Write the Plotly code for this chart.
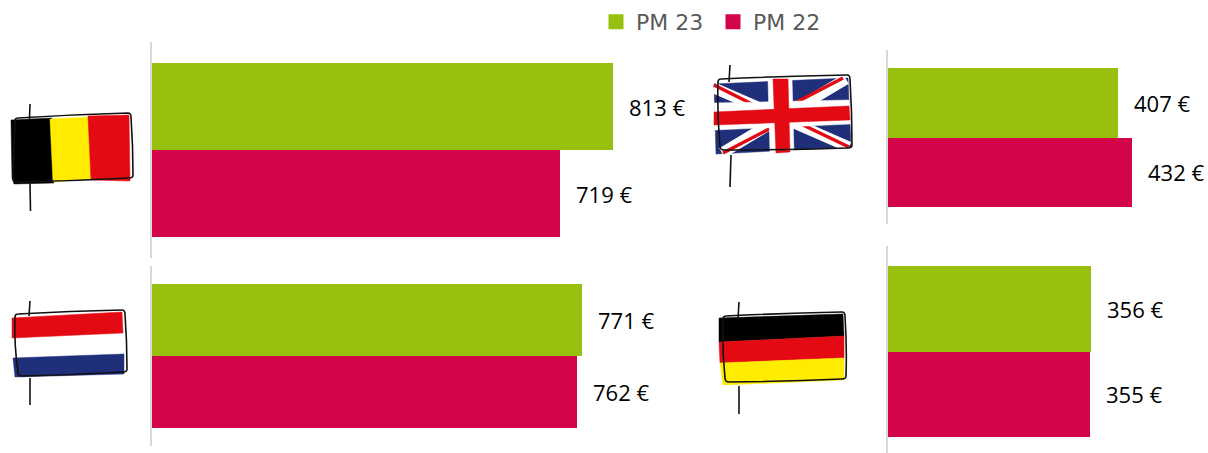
import plotly.graph_objects as go

W, H = 1208, 453
series = ["PM 23", "PM 22"]
countries = ["BE", "UK", "NL", "DE"]
pm23 = [813, 407, 771, 356]
pm22 = [719, 432, 762, 355]
labels23 = ["813 €", "407 €", "771 €", "356 €"]
labels22 = ["719 €", "432 €", "762 €", "355 €"]
GREEN, RED = "#97C00E", "#D20548"

# panel geometry in pixels: left, right, axis top, axis bottom, bars top, bars bottom, px per unit
panels = [
    (152, 700, 42, 258, 63, 237, 0.567),
    (888, 1208, 50, 224, 68, 207, 0.565),
    (152, 700, 266, 446, 284, 428, 0.5577),
    (888, 1208, 246, 453, 266, 437, 0.570),
]


def X(x):
    return round(x / W, 5)


def Y(y):
    return round(1 - y / H, 5)


def path(cmds):
    out = []
    for c in cmds:
        out.append(c[0] + " ".join(f"{X(c[i])},{Y(c[i + 1])}" for i in range(1, len(c), 2)))
    return " ".join(out)


shapes = []


def fill(pts, color):
    cmds = [("M", *pts[0])] + [("L", *p) for p in pts[1:]] + [("Z",)]
    shapes.append(dict(type="path", xref="paper", yref="paper", path=path(cmds),
                       fillcolor=color, line=dict(width=0.5, color=color), layer="above"))


def stroke(pts, color="#111111", width=1.6):
    cmds = [("M", *pts[0])] + [("L", *p) for p in pts[1:]]
    shapes.append(dict(type="path", xref="paper", yref="paper", path=path(cmds),
                       line=dict(width=width, color=color), layer="above"))


def frame(tl, tr, br, bl):
    mt = ((tl[0] + tr[0]) / 2, (tl[1] + tr[1]) / 2 - 1)
    mb = ((bl[0] + br[0]) / 2, (bl[1] + br[1]) / 2 + 1)
    cmds = [("M", tl[0] + 3, tl[1]), ("Q", *mt, tr[0] - 3, tr[1]), ("Q", tr[0], tr[1], tr[0], tr[1] + 4),
            ("Q", tr[0] + 2, (tr[1] + br[1]) / 2, br[0], br[1] - 3), ("Q", br[0], br[1], br[0] - 4, br[1]),
            ("Q", *mb, bl[0] + 4, bl[1]), ("Q", bl[0], bl[1], bl[0], bl[1] - 4),
            ("Q", tl[0] - 1, (tl[1] + bl[1]) / 2, tl[0], tl[1] + 3), ("Q", tl[0], tl[1], tl[0] + 3, tl[1])]
    shapes.append(dict(type="path", xref="paper", yref="paper", path=path(cmds),
                       line=dict(width=1.6, color="#111111"), layer="above"))


# Belgium
fill([(11, 120), (52, 118), (54, 183), (14, 184), (12, 178)], "#000000")
fill([(50, 119), (89, 117), (91, 179), (53, 182)], "#FFEC00")
fill([(88, 116), (129, 115), (130, 181), (91, 180)], "#E30A13")
frame((15, 118), (131, 113), (133, 178), (13, 182))
stroke([(30, 104), (29.5, 119)])
stroke([(30, 183), (30.5, 211)])

# United Kingdom
NAVY = "#1F2F7A"
fill([(714, 84), (848, 78), (851, 147), (716, 154)], NAVY)
stroke([(714, 88), (849, 147)], "#FFFFFF", 11)
stroke([(846, 79), (722, 153)], "#FFFFFF", 11)
stroke([(714, 85), (760, 108)], "#E30A13", 3.5)
stroke([(843, 78), (793, 104)], "#E30A13", 3.5)
stroke([(723, 153), (771, 128)], "#E30A13", 3.5)
stroke([(803, 125), (849, 147)], "#E30A13", 3.5)
fill([(768, 79), (792, 78), (794, 152), (770, 153)], "#FFFFFF")
fill([(714, 103), (849, 100), (851, 124), (715, 130)], "#FFFFFF")
fill([(773, 79), (788, 79), (790, 152), (776, 153)], "#E30A13")
fill([(714, 112), (849, 106), (850, 120), (714, 125)], "#E30A13")
frame((718, 79), (850, 75), (852, 148), (720, 150))
stroke([(730, 65), (729, 82)])
stroke([(731, 155), (730, 187)])

# Netherlands
fill([(12, 318), (122, 312), (123, 333), (12, 338)], "#E30A13")
fill([(13, 358), (124, 354), (124, 374), (15, 377)], NAVY)
frame((15, 314), (125, 310), (127, 372), (18, 376))
stroke([(30, 301), (29, 316)])
stroke([(30, 378), (30, 405)])

# Germany
fill([(719, 318), (843, 314), (844, 336), (719, 342)], "#000000")
fill([(719, 342), (844, 336), (844, 358), (720, 363)], "#E30A13")
fill([(720, 363), (844, 358), (844, 380), (723, 385)], "#FFEC00")
frame((723, 316), (845, 312), (846, 379), (725, 382))
stroke([(739, 302), (738, 319)])
stroke([(739, 386), (739, 414)])

fig = go.Figure()
layout = dict(
    width=W, height=H, margin=dict(l=0, r=0, t=0, b=0), paper_bgcolor="white", plot_bgcolor="white",
    barmode="overlay", bargap=0, showlegend=True, shapes=shapes,
    font=dict(family="Open Sans, sans-serif", size=22, color="#000000"),
    legend=dict(orientation="h", x=X(596), xanchor="left", y=Y(1), yanchor="top",
                font=dict(family="DejaVu Sans", size=22, color="#595959"), bgcolor="rgba(0,0,0,0)",
                traceorder="normal", itemwidth=30, entrywidth=72, entrywidthmode="pixels"),
)
annotations = []
for i, p in enumerate(panels):
    left, right, atop, abot, btop, bbot, scale = p
    suffix = "" if i == 0 else str(i + 1)
    step = (bbot - btop) / 2
    layout["xaxis" + suffix] = dict(domain=[X(left), X(right)], range=[0, (right - left) / scale],
                                    visible=False, anchor="y" + suffix, fixedrange=True)
    layout["yaxis" + suffix] = dict(domain=[Y(abot), Y(atop)], anchor="x" + suffix, type="category",
                                    categoryorder="array", categoryarray=series,
                                    range=[1.5 + (abot - bbot) / step, -0.5 - (btop - atop) / step],
                                    showticklabels=False, ticks="", showgrid=False, zeroline=False,
                                    showline=True, linecolor="#D9D9D9", linewidth=2, fixedrange=True)
    for name, vals, texts, color in ((series[0], pm23, labels23, GREEN), (series[1], pm22, labels22, RED)):
        fig.add_trace(go.Bar(x=[vals[i]], y=[name], orientation="h", name=name, width=1,
                             marker=dict(color=color, line=dict(width=0)), legendgroup=name,
                             showlegend=False, xaxis="x" + suffix, yaxis="y" + suffix,
                             hoverinfo="skip"))
        annotations.append(dict(x=vals[i], y=name, xref="x" + suffix, yref="y" + suffix, text=texts[i],
                                showarrow=False, xanchor="left", xshift=14, yshift=0,
                                font=dict(size=22, color="#000000")))
# legend keys with a slightly larger swatch than the bar symbol's default
for name, color in zip(series, (GREEN, RED)):
    fig.add_trace(go.Bar(x=[None], y=[None], name=name, legendgroup=name, showlegend=True,
                         marker=dict(color=color, line=dict(width=3, color=color)), hoverinfo="skip"))
layout["annotations"] = annotations
fig.update_layout(**layout)
fig.write_html("out.html", post_script="document.body.style.margin='0';", config={"displayModeBar": False})
